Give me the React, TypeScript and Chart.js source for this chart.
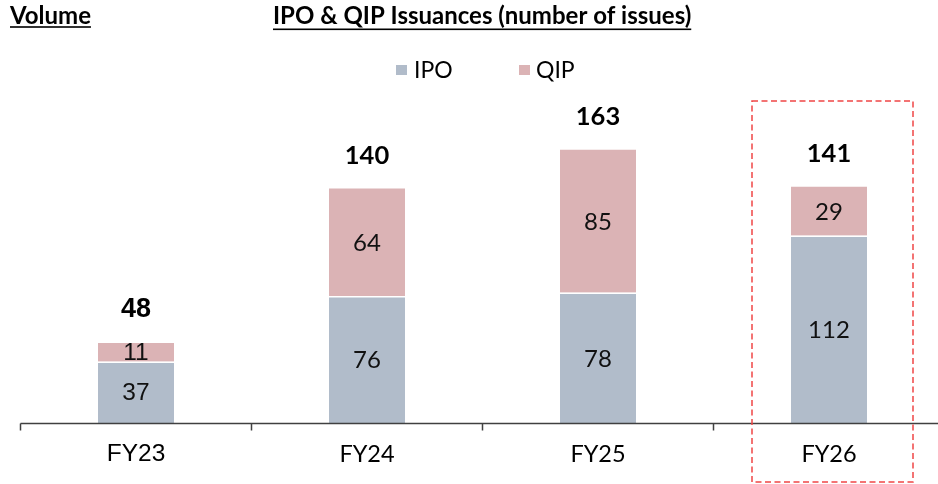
import React, { useEffect, useRef } from "react";
import { Chart, registerables } from "chart.js";

Chart.register(...registerables);

const categories = ["FY23", "FY24", "FY25", "FY26"];
const ipoValues = [37, 76, 78, 112];
const qipValues = [11, 64, 85, 29];
const totalValues = [48, 140, 163, 141];
const seriesNames = ["IPO", "QIP"];
const chartTitle = "IPO & QIP Issuances (number of issues)";
const sideTitle = "Volume";
const highlightIndex = 3;

const IPO_COLOR = "#B1BCCA";
const QIP_COLOR = "#DBB3B5";
const LATO = "Lato, 'Noto Sans', sans-serif";
const ARIAL = "'Liberation Sans', Arial, sans-serif";
const labelFamily = (i: number) => (i === 0 ? ARIAL : LATO);
const labelSize = (i: number, s: number, arialSize: number) => (i === 0 ? arialSize : s);

const overlayPlugin = {
  id: "overlay",
  afterDraw(chart: any) {
    const ctx: CanvasRenderingContext2D = chart.ctx;
    const xs = chart.scales.x;
    const ys = chart.scales.y;
    const area = chart.chartArea;
    ctx.save();

    // Titles
    ctx.fillStyle = "#000";
    ctx.textBaseline = "alphabetic";
    ctx.textAlign = "left";
    ctx.font = `bold 24px ${LATO}`;
    const vw = ctx.measureText(sideTitle).width;
    ctx.fillText(sideTitle, 10, 23.5);
    ctx.fillRect(10, 26.2, vw, 1.6);
    const tw = ctx.measureText(chartTitle).width;
    ctx.fillText(chartTitle, 273, 23.5);
    ctx.fillRect(273, 28.5, tw, 1.6);

    // Legend
    ctx.font = `23px ${LATO}`;
    ctx.textBaseline = "middle";
    ctx.fillStyle = IPO_COLOR;
    ctx.fillRect(396, 65, 11, 10);
    ctx.fillStyle = "#000";
    ctx.fillText(seriesNames[0], 414, 70.5);
    ctx.fillStyle = QIP_COLOR;
    ctx.fillRect(519, 65, 11, 10);
    ctx.fillStyle = "#000";
    ctx.fillText(seriesNames[1], 536, 70.5);

    // Axis line and ticks
    const base = ys.getPixelForValue(0);
    ctx.strokeStyle = "#404040";
    ctx.lineWidth = 1.5;
    ctx.beginPath();
    ctx.moveTo(area.left, base);
    ctx.lineTo(area.right, base);
    const step = (area.right - area.left) / categories.length;
    for (let k = 0; k <= categories.length; k++) {
      const x = area.left + k * step;
      ctx.moveTo(x, base);
      ctx.lineTo(x, base + 7);
    }
    ctx.stroke();

    // Category labels
    ctx.textAlign = "center";
    ctx.textBaseline = "middle";
    categories.forEach((c, i) => {
      ctx.font = `${labelSize(i, 23.5, 24.5)}px ${labelFamily(i)}`;
      ctx.fillStyle = "#000";
      ctx.fillText(c, xs.getPixelForValue(i), base + 31);
    });

    // Segment labels
    [0, 1].forEach((di) => {
      const meta = chart.getDatasetMeta(di);
      const vals = di === 0 ? ipoValues : qipValues;
      meta.data.forEach((bar: any, i: number) => {
        ctx.font = `${labelSize(i, 24, 24.5)}px ${labelFamily(i)}`;
        ctx.fillStyle = "#111";
        ctx.fillText(String(vals[i]), bar.x, (bar.y + bar.base) / 2 + 1);
      });
    });

    // Totals
    const topMeta = chart.getDatasetMeta(1);
    topMeta.data.forEach((bar: any, i: number) => {
      ctx.font = `bold ${labelSize(i, 25.5, 27)}px ${labelFamily(i)}`;
      ctx.fillStyle = "#000";
      ctx.fillText(String(totalValues[i]), bar.x, ys.getPixelForValue(totalValues[i]) - 33);
    });

    // Highlight dashed box
    const hx = xs.getPixelForValue(highlightIndex);
    ctx.strokeStyle = "#F04545";
    ctx.lineWidth = 1.5;
    ctx.setLineDash([6, 3.5]);
    ctx.strokeRect(hx - 77, 101, 161, 381);
    ctx.restore();
  },
};

export default function App() {
  const ref = useRef<HTMLCanvasElement | null>(null);
  useEffect(() => {
    if (!ref.current) return;
    const chart = new Chart(ref.current, {
      type: "bar",
      data: {
        labels: categories,
        datasets: [
          {
            label: seriesNames[0],
            data: ipoValues,
            backgroundColor: IPO_COLOR,
            borderColor: "#FFFFFF",
            borderWidth: { top: 1.5, left: 0, right: 0, bottom: 0 },
            borderSkipped: false,
            categoryPercentage: 1,
            barPercentage: 0.329,
          },
          {
            label: seriesNames[1],
            data: qipValues,
            backgroundColor: QIP_COLOR,
            borderWidth: 0,
            categoryPercentage: 1,
            barPercentage: 0.329,
          },
        ],
      },
      options: {
        responsive: false,
        animation: false,
        devicePixelRatio: 1,
        layout: { padding: { top: 87.7, bottom: 60.5, left: 20.5, right: 1.5 } },
        plugins: { legend: { display: false }, tooltip: { enabled: false } },
        scales: {
          x: { display: false, stacked: true, grid: { display: false } },
          y: { display: false, stacked: true, min: 0, max: 200, grid: { display: false } },
        },
      } as any,
      plugins: [overlayPlugin],
    });
    return () => chart.destroy();
  }, []);
  return (
    <div style={{ position: "fixed", left: 0, top: 0, width: 938, height: 484, overflow: "hidden", background: "#fff" }}>
      <canvas ref={ref} width={946} height={484} style={{ display: "block" }} />
    </div>
  );
}
